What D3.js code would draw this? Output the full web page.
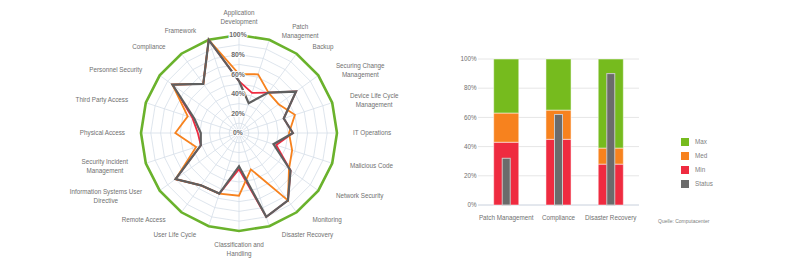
<!DOCTYPE html>
<html>
<head>
<meta charset="utf-8">
<script src="https://cdn.jsdelivr.net/npm/d3@7"></script>
<style>
  body { margin: 0; background: #fff; }
  svg { display: block; font-family: "Liberation Sans", Arial, sans-serif; }
</style>
</head>
<body>
<svg width="800" height="266"></svg>
<script>
// radar data
const categories = ["Application\nDevelopment", "Patch\nManagement", "Backup", "Securing Change\nManagement",
  "Device Life Cycle\nManagement", "IT Operations", "Malicious Code", "Network Security", "Monitoring",
  "Disaster Recovery", "Classification and\nHandling", "User Life Cycle", "Remote Access",
  "Information Systems User\nDirective", "Security Incident\nManagement", "Physical Access",
  "Third Party Access", "Personnel Security", "Compliance", "Framework"];
const maxValues    = [100, 100, 100, 100, 100, 100, 100, 100, 100, 100, 100, 100, 100, 100, 100, 100, 100, 100, 100, 100];
const minValues    = [53, 43, 51, 72, 48, 55, 40, 65, 85, 90, 37, 65, 66, 80, 41, 42, 50, 84, 62, 100];
const medValues    = [60, 63, 51, 50, 60, 51, 57, 63, 85, 39, 64, 65, 66, 80, 46, 65, 55, 84, 62, 100];
const statusValues = [53, 32, 51, 72, 48, 55, 37, 65, 85, 90, 34, 65, 66, 80, 41, 39, 48, 84, 62, 100];
const radarTicks = [0, 20, 40, 60, 80, 100];

// bar data
const barCategories = ["Patch Management", "Compliance", "Disaster Recovery"];
const barMin = [43, 45, 28];
const barMed = [63, 65, 39];
const barMax = [100, 100, 100];
const barStatus = [32, 62, 90];
const barTicks = [0, 20, 40, 60, 80, 100];

const legendNames = ["Max", "Med", "Min", "Status"];
const colors = { Max: "#76bb1e", Med: "#f7821e", Min: "#ef2b40", Status: "#6b6b6b" };

const svg = d3.select("svg");

// ---------- radar ----------
const cx = 239, cy = 133, R = 98;
const n = categories.length;
const r = d3.scaleLinear().domain([0, 100]).range([0, R]);
const angle = i => i * 2 * Math.PI / n;

const radar = svg.append("g").attr("transform", "translate(" + cx + "," + cy + ")");

const lineRadial = d3.lineRadial()
    .angle((d, i) => angle(i))
    .radius(d => r(d))
    .curve(d3.curveLinearClosed);

// grid rings (polygons)
const rings = d3.range(10, 100, 10);
radar.selectAll("path.ring")
  .data(rings)
  .enter().append("path")
  .attr("class", "ring")
  .attr("d", v => lineRadial(categories.map(() => v)))
  .attr("fill", "none")
  .attr("stroke", "#d6dee9")
  .attr("stroke-width", 0.8);

// spokes
radar.selectAll("line.spoke")
  .data(categories)
  .enter().append("line")
  .attr("x1", 0).attr("y1", 0)
  .attr("x2", (d, i) => r(100) * Math.sin(angle(i)))
  .attr("y2", (d, i) => -r(100) * Math.cos(angle(i)))
  .attr("stroke", "#d6dee9")
  .attr("stroke-width", 0.8);

// series
const series = [
  { name: "Max", values: maxValues, width: 2.6, color: "#6ab22c" },
  { name: "Min", values: minValues, width: 1.8, color: colors.Min },
  { name: "Med", values: medValues, width: 1.8, color: colors.Med },
  { name: "Status", values: statusValues, width: 2.2, color: "#5f5f5f" }
];
radar.selectAll("path.series")
  .data(series)
  .enter().append("path")
  .attr("class", "series")
  .attr("d", s => lineRadial(s.values))
  .attr("fill", "none")
  .attr("stroke", s => s.color)
  .attr("stroke-width", s => s.width);

// percent labels on the vertical axis
radar.selectAll("text.pct")
  .data(radarTicks)
  .enter().append("text")
  .attr("x", -1)
  .attr("y", v => -r(v))
  .attr("dy", "0.35em")
  .attr("text-anchor", "middle")
  .attr("font-size", 6.8)
  .attr("font-weight", "bold")
  .attr("fill", "#6a6a6a")
  .attr("stroke", "#fff")
  .attr("stroke-width", 2)
  .attr("paint-order", "stroke")
  .text(v => v + "%");

// category labels
const lineH = 9;
categories.forEach((c, i) => {
  const a = angle(i), s = Math.sin(a), co = Math.cos(a);
  const lines = c.split("\n");
  const g = radar.append("text")
    .attr("font-size", 6.3)
    .attr("fill", "#707070")
    .attr("text-anchor", "middle");
  lines.forEach(l => g.append("tspan").text(l));
  const w = d3.max(g.selectAll("tspan").nodes(), t => t.getComputedTextLength());
  let x = (R + 16) * s, y = -(R + 9) * co;
  if (Math.abs(s) > 0.05) x += 8 * Math.abs(co) * Math.sign(s) + Math.sign(s) * w / 2;
  let top = y - lines.length * lineH / 2;
  if (Math.abs(s) < 0.05) top = co > 0 ? y - lines.length * lineH : y;
  g.selectAll("tspan")
    .attr("x", x)
    .attr("y", (d, k) => top + lineH * k + lineH / 2)
    .attr("dy", "0.35em");
});

// ---------- bar chart ----------
const bx0 = 478, bx1 = 639, by0 = 205, by1 = 59;
const x = d3.scaleBand().domain(barCategories).range([bx0, bx1]).paddingInner(0.52).paddingOuter(0.3);
const y = d3.scaleLinear().domain([0, 100]).range([by0, by1]);

const bars = svg.append("g");
bars.selectAll("line.grid")
  .data(barTicks)
  .enter().append("line")
  .attr("x1", bx0).attr("x2", bx1)
  .attr("y1", d => y(d)).attr("y2", d => y(d))
  .attr("stroke", d => d === 0 ? "#c8d0dc" : "#e6e6e6")
  .attr("stroke-width", 1);

bars.selectAll("text.ytick")
  .data(barTicks)
  .enter().append("text")
  .attr("x", bx0 - 1.5)
  .attr("y", d => y(d))
  .attr("dy", "0.35em")
  .attr("text-anchor", "end")
  .attr("font-size", 6.3)
  .attr("fill", "#707070")
  .text(d => d + "%");

const stacks = barCategories.map((c, i) => [
  { cat: c, name: "Min", y0: 0, y1: barMin[i] },
  { cat: c, name: "Med", y0: barMin[i], y1: barMed[i] },
  { cat: c, name: "Max", y0: barMed[i], y1: barMax[i] }
]).flat();

bars.selectAll("rect.seg")
  .data(stacks)
  .enter().append("rect")
  .attr("x", d => x(d.cat))
  .attr("width", x.bandwidth())
  .attr("y", d => y(d.y1))
  .attr("height", d => y(d.y0) - y(d.y1))
  .attr("fill", d => colors[d.name])
  .attr("stroke", "#fff")
  .attr("stroke-opacity", 0.5)
  .attr("stroke-width", 1);

const sw = 8;
bars.selectAll("rect.status")
  .data(barCategories)
  .enter().append("rect")
  .attr("x", d => x(d) + x.bandwidth() / 2 - sw / 2)
  .attr("width", sw)
  .attr("y", (d, i) => y(barStatus[i]))
  .attr("height", (d, i) => y(0) - y(barStatus[i]))
  .attr("fill", colors.Status)
  .attr("stroke", "#c9c9c9")
  .attr("stroke-width", 1);

bars.selectAll("text.xtick")
  .data(barCategories)
  .enter().append("text")
  .attr("x", d => x(d) + x.bandwidth() / 2)
  .attr("y", 218)
  .attr("dy", "0.35em")
  .attr("text-anchor", "middle")
  .attr("font-size", 6.3)
  .attr("fill", "#707070")
  .text(d => d);

// legend
const legend = svg.append("g").attr("transform", "translate(681,138)");
legend.selectAll("rect")
  .data(legendNames)
  .enter().append("rect")
  .attr("x", 0).attr("y", (d, i) => i * 14)
  .attr("width", 8).attr("height", 8)
  .attr("fill", d => colors[d]);
legend.selectAll("text")
  .data(legendNames)
  .enter().append("text")
  .attr("x", 14).attr("y", (d, i) => i * 14 + 4)
  .attr("dy", "0.35em")
  .attr("font-size", 6.3)
  .attr("fill", "#808080")
  .text(d => d);

svg.append("text")
  .attr("x", 658).attr("y", 221)
  .attr("dy", "0.35em")
  .attr("font-size", 5)
  .attr("fill", "#808080")
  .text("Quelle: Computacenter");
</script>
</body>
</html>
